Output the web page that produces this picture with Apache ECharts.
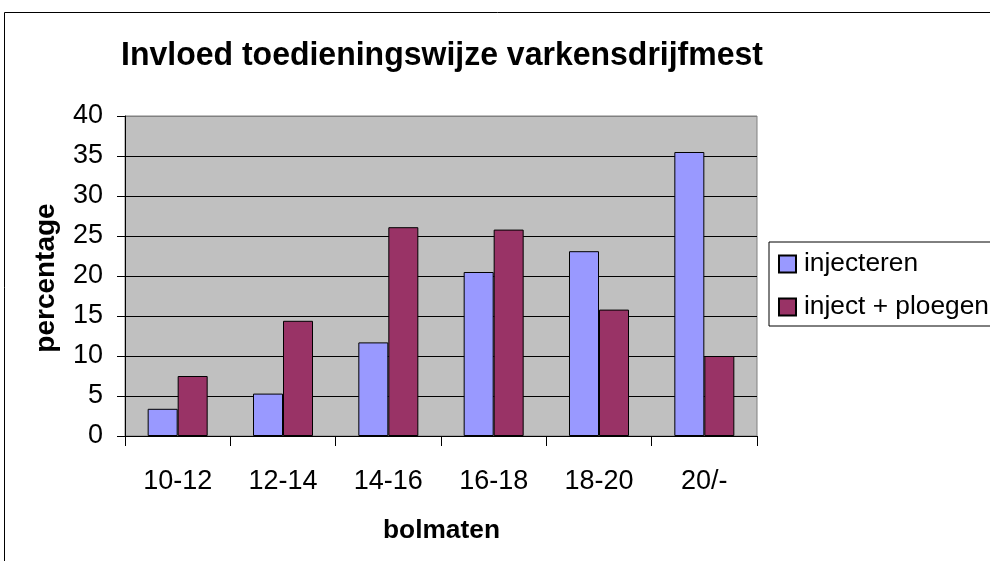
<!DOCTYPE html>
<html>
<head>
<meta charset="utf-8">
<script src="https://cdn.jsdelivr.net/npm/echarts@6/dist/echarts.min.js"></script>
<style>html,body{margin:0;padding:0;background:#fff}#c{width:990px;height:561px}</style>
</head>
<body>
<div id="c"></div>
<script>
const categories = ['10-12', '12-14', '14-16', '16-18', '18-20', '20/-'];
const injecteren = [3.4, 5.3, 11.7, 20.5, 23.1, 35.5];
const injectPloegen = [7.5, 14.4, 26.1, 25.8, 15.8, 10.0];
const seriesNames = ['injecteren', 'inject + ploegen'];
const titleText = 'Invloed toedieningswijze varkensdrijfmest';
const yName = 'percentage';
const xName = 'bolmaten';

const FONT = '"Liberation Sans", Arial, sans-serif';
const chart = echarts.init(document.getElementById('c'), null, {renderer: 'canvas'});
chart.setOption({
  animation: false,
  backgroundColor: '#ffffff',
  grid: {left: 125, right: 233, top: 116, bottom: 125, show: true, backgroundColor: '#C0C0C0', borderColor: '#808080', borderWidth: 1},
  legend: {
    data: seriesNames,
    orient: 'vertical',
    left: 769, top: 242,
    padding: [9, 20, 6, 9],
    itemWidth: 17, itemHeight: 17,
    itemGap: 17,
    icon: 'rect',
    borderColor: '#000', borderWidth: 1,
    backgroundColor: '#fff',
    textStyle: {fontFamily: FONT, fontSize: 26.3, color: '#000', lineHeight: 26, padding: [0,0,0,3]}
  },
  xAxis: {
    type: 'category',
    data: categories,
    axisLine: {lineStyle: {color: '#000', width: 1}},
    axisTick: {show: true, length: 10, lineStyle: {color: '#000'}},
    axisLabel: {fontFamily: FONT, fontSize: 27, color: '#000', margin: 32},
    splitLine: {show: false}
  },
  yAxis: {
    type: 'value',
    min: 0, max: 40, interval: 5,
    axisLine: {show: true, lineStyle: {color: '#000', width: 1}},
    axisTick: {show: true, length: 8, lineStyle: {color: '#000'}},
    axisLabel: {fontFamily: FONT, fontSize: 27, color: '#000', margin: 22},
    splitLine: {show: true, lineStyle: {color: ['#000','#000','#000','#000','#000','#000','#000','#000','#808080'], width: 1}}
  },
  series: [
    {name: seriesNames[0], type: 'bar', data: injecteren, barWidth: 30, barGap: '0%',
     itemStyle: {color: '#9999FF', borderColor: '#000', borderWidth: 1}},
    {name: seriesNames[1], type: 'bar', data: injectPloegen, barWidth: 30, barGap: '0%',
     itemStyle: {color: '#993366', borderColor: '#000', borderWidth: 1}}
  ],
  graphic: [
    {type: 'rect', shape: {x: 4.5, y: 12.5, width: 1100, height: 700}, style: {fill: null, stroke: '#000', lineWidth: 1}, silent: true, z: -10},
    {type: 'text', x: 442, y: 56, scaleY: 1.06, style: {text: titleText, font: 'bold 32px "Liberation Sans", Arial, sans-serif', fill: '#000', textAlign: 'center', textVerticalAlign: 'middle'}},
    {type: 'text', x: 46, y: 278, rotation: Math.PI/2, style: {text: yName, font: 'bold 28px "Liberation Sans", Arial, sans-serif', fill: '#000', textAlign: 'center', textVerticalAlign: 'middle'}},
    {type: 'text', x: 441.5, y: 531, style: {text: xName, font: 'bold 26.3px "Liberation Sans", Arial, sans-serif', fill: '#000', textAlign: 'center', textVerticalAlign: 'middle'}}
  ]
});
</script>
</body>
</html>
